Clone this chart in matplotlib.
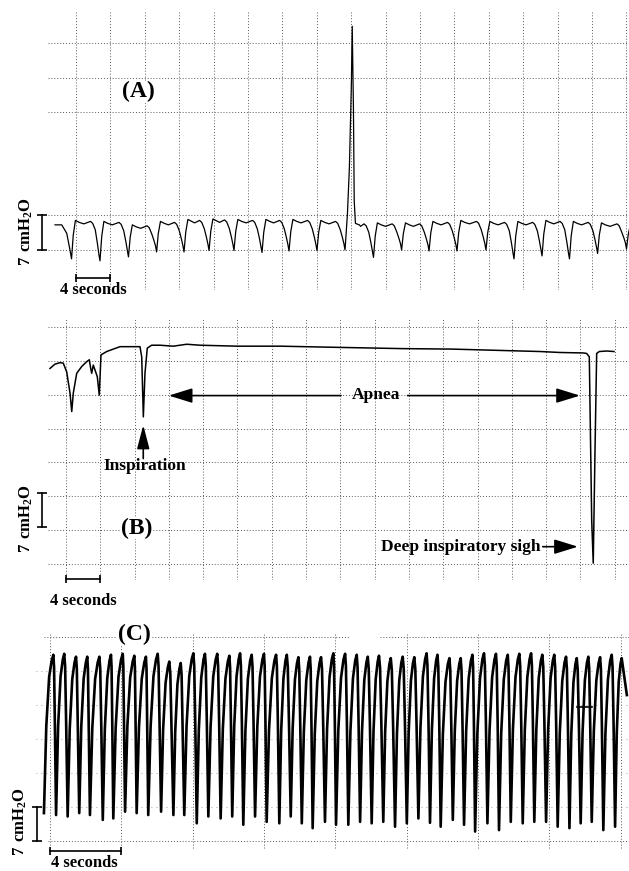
import matplotlib.pyplot as plt

plt.rcParams['font.family'] = ['Liberation Serif', 'DejaVu Serif']
plt.rcParams['font.weight'] = 'bold'
plt.rcParams['mathtext.fontset'] = 'custom'
plt.rcParams['mathtext.rm'] = 'Liberation Serif:bold'
plt.rcParams['mathtext.bf'] = 'Liberation Serif:bold'

# ---------------- panel A: normal breathing with one spike ----------------
# time in seconds, pressure in cmH2O
a_lead_t = [-2.44, -1.66, -1.08, -0.70]
a_lead_p = [5.1, 5.1, 3.4, 0.0]
a_trough_t = [-0.52, 2.79, 6.10, 9.37, 12.56, 15.47, 18.37, 21.63, 24.77, 28.02,
              31.28, 34.59, 37.86, 41.05, 44.30, 47.67, 50.93, 54.19, 57.38, 60.65, 64.01]
a_trough_p = [-1.8, -2.2, -1.4, -0.4, -0.4, -0.1, -0.1, -0.5, -0.2, -0.1,
              0.0, -1.5, 0.0, -0.2, -0.2, 0.0, -1.8, -1.2, -1.8, -0.7, 0.2]
a_plateau_p = [5.6, 5.4, 4.7, 5.4, 5.8, 5.9, 5.8, 5.8, 5.8, 5.6,
               5.1, 5.1, 5.1, 5.4, 5.6, 5.4, 5.4, 5.6, 5.4, 5.1, 4.7]
a_spike_after = 10
a_spike_t = [31.56, 31.79, 32.02, 32.12, 32.26, 32.35, 32.49]
a_spike_p = [7.3, 16.8, 33.8, 45.4, 28.4, 10.0, 5.4]

# ---------------- panel B: apnea ----------------
b_t = [-1.87, -1.28, -0.70, -0.32, 0.08, 0.47, 0.67, 0.85, 1.25, 1.83, 2.41, 2.72,
       2.88, 3.00, 3.18, 3.38, 3.65, 3.88, 4.08, 4.75, 5.52, 6.30, 7.46, 8.63, 8.83,
       9.02, 9.21, 9.48, 9.99, 10.96, 12.51, 14.08, 15.63, 20.0, 25.07, 30.5, 39.14,
       45.0, 53.18, 55.28, 57.61, 60.33, 60.72, 61.03, 61.31, 61.49, 61.69, 61.89,
       62.19, 63.06, 63.91]
b_p = [40.4, 41.3, 41.6, 41.5, 39.7, 35.3, 31.5, 35.3, 39.4, 40.8, 41.8, 42.2,
       40.4, 39.4, 41.1, 40.1, 38.7, 34.9, 43.2, 43.9, 44.4, 44.9, 44.9, 44.9, 42.8,
       30.4, 39.4, 44.6, 45.2, 45.2, 45.0, 45.4, 45.2, 45.0, 45.0, 44.8, 44.5,
       44.4, 44.0, 43.9, 43.7, 43.6, 43.5, 42.8, 9.1, 0.2, 22.9, 43.5,
       43.9, 44.0, 43.9]

# ---------------- panel C: rapid breathing ----------------
c_trough_t = [-0.34, 0.34, 0.99, 1.64, 2.24, 2.96, 3.55, 4.21, 4.86, 5.51,
              6.23, 6.92, 7.53, 8.23, 8.88, 9.57, 10.22, 10.84, 11.50, 12.15,
              12.86, 13.50, 14.12, 14.73, 15.42, 16.04, 16.73, 17.39, 18.04, 18.69,
              19.35, 20.01, 20.66, 21.31, 21.91, 22.59, 23.22, 23.84, 24.53, 25.18,
              25.84, 26.51, 27.16, 27.82, 28.47, 29.13, 29.76, 30.38, 31.03, 31.69]
c_trough_p = [5.7, 5.3, 5.0, 5.7, 5.3, 4.3, 4.6, 6.0, 5.7, 5.3,
              6.0, 5.3, 5.3, 3.6, 5.0, 4.6, 5.0, 3.3, 5.0, 3.9,
              3.6, 5.0, 3.6, 2.6, 3.9, 3.3, 3.3, 3.9, 3.6, 3.9,
              2.9, 3.6, 4.6, 3.7, 2.9, 4.3, 3.3, 1.9, 3.6, 2.2,
              3.9, 3.6, 3.9, 3.9, 2.9, 2.6, 3.6, 3.9, 2.2, 2.9]
c_peak_t = [0.19, 0.80, 1.46, 2.09, 2.77, 3.42, 4.08, 4.73, 5.38, 6.04,
            6.69, 7.33, 8.04, 8.69, 9.38, 10.06, 10.66, 11.31, 12.00, 12.68,
            13.28, 13.93, 14.58, 15.20, 15.89, 16.55, 17.20, 17.82, 18.45, 19.11,
            19.78, 20.43, 21.12, 21.73, 22.40, 23.03, 23.69, 24.34, 25.01, 25.67,
            26.32, 26.98, 27.61, 28.28, 28.94, 29.54, 30.19, 30.85, 31.50, 32.06]
c_peak_p = [38.3, 38.5, 37.9, 37.9, 37.9, 38.3, 38.5, 38.1, 37.9, 38.5,
            36.9, 36.6, 38.6, 38.5, 38.5, 38.1, 38.6, 38.3, 38.5, 38.3,
            38.3, 37.8, 37.9, 37.8, 38.6, 38.5, 38.3, 37.9, 38.1, 37.6,
            37.9, 37.8, 38.6, 38.3, 37.6, 37.6, 38.3, 38.6, 38.5, 38.3,
            38.5, 38.6, 38.3, 38.3, 37.9, 37.6, 37.9, 37.8, 38.3, 37.6]


def build_a():
    t, p = list(a_lead_t), list(a_lead_p)
    n = len(a_trough_t)
    for i in range(n):
        tt, pp, pl = a_trough_t[i], a_trough_p[i], a_plateau_p[i]
        t.append(tt)
        p.append(pp)
        if i == a_spike_after:
            t += a_spike_t
            p += a_spike_p
            start = a_spike_t[-1]
        else:
            t += [tt + 0.2, tt + 0.45]
            p += [pp + 0.65 * (pl - pp), pl + 0.4]
            start = tt + 0.45
        if i + 1 < n:
            tn, pn = a_trough_t[i + 1], a_trough_p[i + 1]
            mid = (start + tn - 0.9) / 2
            t += [start + 0.45, mid, tn - 1.1, tn - 0.85, tn - 0.55, tn - 0.3, tn - 0.12]
            p += [pl, pl - 0.3, pl + 0.2, pl - 0.2, pl - 1.5,
                  pl - 0.55 * (pl - pn), pn + 1.2]
    return t, p


def build_c():
    t, p = [], []
    for i in range(len(c_peak_t)):
        tt, pp = c_trough_t[i], c_trough_p[i]
        tk, pk = c_peak_t[i], c_peak_p[i]
        d = tk - tt
        t += [tt, tt + 0.25 * d, tt + 0.55 * d, tt + 0.82 * d, tk]
        p += [pp, pp + 0.55 * (pk - pp), pp + 0.86 * (pk - pp), pk - 1.2, pk]
        if i + 1 < len(c_trough_t):
            f = c_trough_t[i + 1] - tk
            t += [tk + 0.25 * f, tk + 0.55 * f]
            p += [pk - 2.5, pk - 14.0]
    t.append(32.35)
    p.append(30.0)
    return t, p


W, H = 629, 871
fig = plt.figure(figsize=(W / 100, H / 100), dpi=100)


def panel(l, tp, r, b, xlim, ylim):
    ax = fig.add_axes([l / W, 1 - b / H, (r - l) / W, (b - tp) / H])
    ax.set_xlim(*xlim)
    ax.set_ylim(*ylim)
    ax.axis('off')
    return ax


grid_kw = dict(color='0.35', lw=0.7, ls=(0, (1, 2)), zorder=0)
txt_kw = dict(fontfamily='Liberation Serif', fontweight='bold', color='black')
white = dict(facecolor='white', edgecolor='none', pad=0.5)
ylabel = r'$\mathbf{7\ cmH_2O}$'


def scale_bars(ax, t_bar, p_bar, t_txt, p_txt, t_brk, p_brk, t_lab, p_lab):
    ax.plot([t_bar, t_bar + 4], [p_bar, p_bar], color='k', lw=1.2, marker='|',
            ms=6, mew=1.2, clip_on=False)
    ax.text(t_txt, p_txt, '4 seconds', ha='center', va='center', fontsize=12, **txt_kw)
    ax.plot([t_brk, t_brk], [p_brk, p_brk + 7], color='k', lw=1.2, marker='_',
            ms=7, mew=1.2, clip_on=False)
    ax.text(t_lab, p_lab, ylabel, rotation=90, ha='center', va='center',
            fontsize=12, **txt_kw)


def arrow(ax, tail, tip, hl=1.45, hw=0.45):
    ax.annotate('', xy=tip, xytext=tail, annotation_clip=False,
                arrowprops=dict(arrowstyle=f'-|>,head_length={hl},head_width={hw}',
                                color='k', lw=1.2, mutation_scale=10,
                                shrinkA=0, shrinkB=0))


# ---- A ----
axA = panel(48, 10, 629, 290, (-3.256, 64.30), (-8.12, 48.70))
for g in [0, 7, 28, 35, 42]:
    axA.axhline(g, **grid_kw)
for g in range(0, 65, 4):
    axA.axvline(g, **grid_kw)
ta, pa = build_a()
axA.plot(ta, pa, color='k', lw=0.9)
axA.text(7.21, 32.1, '(A)', ha='center', va='center', fontsize=17, bbox=white, **txt_kw)
scale_bars(axA, 0, -5.74, 2.0, -8.2, -3.95, 0, -5.81, 3.65)

# ---- B ----
axB = panel(48, 318, 629, 580, (-2.099, 65.66), (-3.28, 50.82))
for g in range(0, 50, 7):
    axB.axhline(g, **grid_kw)
for g in range(0, 65, 4):
    axB.axvline(g, **grid_kw)
axB.plot(b_t, b_p, color='k', lw=1.1)
axB.text(36.15, 34.9, 'Apnea', ha='center', va='center', fontsize=12.5, **txt_kw)
arrow(axB, (32.07, 34.8), (11.98, 34.8))
arrow(axB, (39.84, 34.8), (59.94, 34.8))
axB.text(9.21, 20.2, 'Inspiration', ha='center', va='center', fontsize=12.5, **txt_kw)
arrow(axB, (9.01, 21.8), (9.01, 28.7), hl=1.45, hw=0.38)
axB.text(55.3, 3.5, 'Deep inspiratory sigh', ha='right', va='center', fontsize=12.5, **txt_kw)
arrow(axB, (55.6, 3.6), (59.7, 3.6))
axB.text(8.28, 7.45, '(B)', ha='center', va='center', fontsize=17, bbox=white, **txt_kw)
scale_bars(axB, 0, -3.08, 1.98, -7.6, -2.80, 7.6, -4.66, 9.3)

# ---- C ----
axC = panel(36, 628, 629, 866, (-0.785, 32.47), (-5.19, 43.81))
axC.plot([-0.34, 16.8], [42, 42], **grid_kw)
axC.plot([18.5, 32.47], [42, 42], **grid_kw)
axC.axhline(0, xmin=0.02, **grid_kw)
for g in [7, 14, 21, 28, 35]:
    axC.axhline(g, color='0.5', lw=0.6, ls=(0, (1, 5)), zorder=0)
for g in range(0, 33, 4):
    axC.plot([g, g], [-1.5, 42.5], **grid_kw)
tc, pc = build_c()
axC.plot(tc, pc, color='k', lw=1.9, solid_joinstyle='round')
axC.plot([29.56, 30.40], [27.6, 27.6], color='k', lw=1.2)
axC.text(4.74, 42.4, '(C)', ha='center', va='center', fontsize=17, bbox=white, **txt_kw)
scale_bars(axC, 0, -2.06, 1.91, -4.5, -0.73, 0, -1.68, 3.9)

fig.savefig('out.png', dpi=100)
